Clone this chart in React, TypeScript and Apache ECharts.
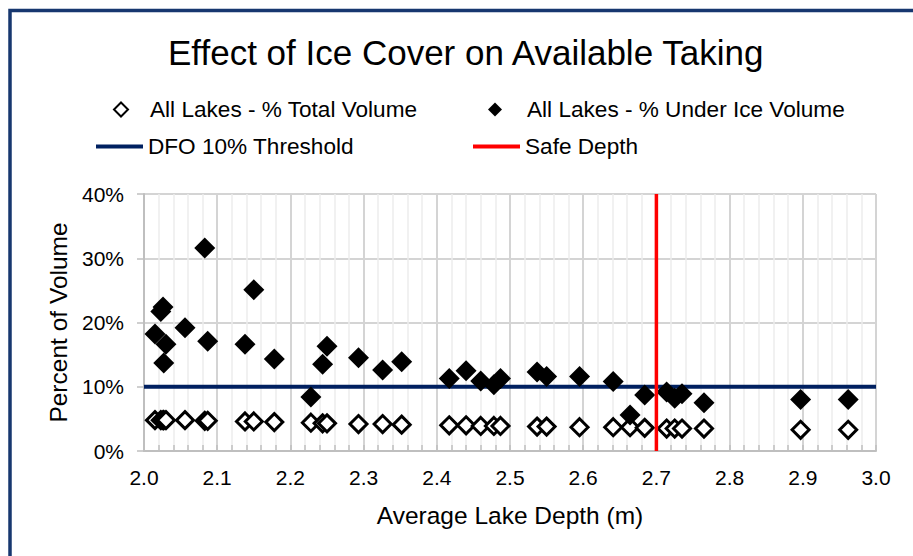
import React, { useEffect, useRef } from "react";
import * as echarts from "echarts";

// ---- Data ----
const depths = [
  2.015, 2.023, 2.026, 2.027, 2.03, 2.056, 2.083, 2.087, 2.138, 2.15, 2.178,
  2.228, 2.244, 2.25, 2.293, 2.326, 2.352, 2.417, 2.44, 2.46, 2.478, 2.487,
  2.537, 2.55, 2.595, 2.641, 2.664, 2.684, 2.714, 2.725, 2.735, 2.765, 2.897,
  2.962,
];
const underIcePct = [
  18.2, 21.7, 22.4, 13.7, 16.6, 19.2, 31.6, 17.1, 16.6, 25.1, 14.3, 8.4, 13.5,
  16.3, 14.5, 12.6, 13.9, 11.3, 12.5, 10.9, 10.3, 11.3, 12.3, 11.6, 11.6, 10.8,
  5.6, 8.7, 9.2, 8.2, 8.9, 7.5, 8.0, 8.0,
];
const totalVolumePct = [
  4.8, 4.8, 4.8, 4.8, 4.8, 4.8, 4.7, 4.7, 4.6, 4.6, 4.5, 4.4, 4.3, 4.3, 4.2,
  4.2, 4.1, 4.0, 4.0, 3.9, 3.9, 3.9, 3.8, 3.8, 3.7, 3.7, 3.7, 3.6, 3.5, 3.5,
  3.5, 3.5, 3.3, 3.3,
];
const dfoThresholdPct = 10;
const safeDepthM = 2.7;
const xRange = [2, 3];
const yRange = [0, 40];

const seriesNames = {
  total: "All Lakes - % Total Volume",
  under: "All Lakes - % Under Ice Volume",
  dfo: "DFO 10% Threshold",
  safe: "Safe Depth",
};

const FONT = "'Liberation Sans', Arial, sans-serif";

export default function App() {
  const ref = useRef<HTMLDivElement>(null);

  useEffect(() => {
    if (!ref.current) return;
    const chart = echarts.init(ref.current, null, { renderer: "svg" });

    const legendText = { fontSize: 22.6, color: "#000", fontFamily: FONT };
    const symbolLegend = {
      orient: "horizontal",
      padding: 0,
      itemWidth: 14,
      itemHeight: 14,
      selectedMode: false,
      top: 98,
    };
    const lineLegend = {
      orient: "horizontal",
      padding: 0,
      itemWidth: 47,
      itemHeight: 4,
      icon: "rect",
      selectedMode: false,
      top: 135,
      textStyle: legendText,
    };

    chart.setOption({
      animation: false,
      backgroundColor: "#fff",
      textStyle: { fontFamily: FONT },
      title: {
        text: "Effect of Ice Cover on Available Taking",
        left: 168,
        top: 35,
        padding: 0,
        textStyle: {
          fontSize: 35,
          fontWeight: "normal",
          color: "#000",
          fontFamily: FONT,
        },
      },
      legend: [
        {
          ...symbolLegend,
          data: [seriesNames.total],
          left: 113,
          textStyle: { ...legendText, padding: [0, 0, 0, 17] },
        },
        {
          ...symbolLegend,
          data: [seriesNames.under],
          left: 488,
          textStyle: { ...legendText, padding: [0, 0, 0, 20] },
        },
        { ...lineLegend, data: [seriesNames.dfo], left: 96 },
        { ...lineLegend, data: [seriesNames.safe], left: 473 },
      ],
      grid: { left: 144, right: 37, top: 194, bottom: 105, containLabel: false },
      xAxis: {
        type: "value",
        min: xRange[0],
        max: xRange[1],
        interval: 0.1,
        name: "Average Lake Depth (m)",
        nameLocation: "middle",
        nameGap: 52,
        nameTextStyle: { fontSize: 24.5, color: "#000", fontFamily: FONT },
        axisLine: { show: true, lineStyle: { color: "#bfbfbf", width: 2 } },
        axisTick: {
          show: true,
          inside: true,
          length: 6,
          lineStyle: { color: "#bfbfbf", width: 1.5 },
        },
        minorTick: {
          show: true,
          splitNumber: 5,
          length: 6,
          lineStyle: { color: "#bfbfbf", width: 1.5 },
        },
        axisLabel: {
          fontSize: 21,
          color: "#000",
          margin: 16,
          fontFamily: FONT,
          formatter: (v: number) => v.toFixed(1),
        },
        splitLine: { show: true, lineStyle: { color: "#d4d4d4", width: 2 } },
        minorSplitLine: {
          show: true,
          lineStyle: { color: "#ececec", width: 1.5 },
        },
      },
      yAxis: {
        type: "value",
        min: yRange[0],
        max: yRange[1],
        interval: 10,
        name: "Percent of Volume",
        nameLocation: "middle",
        nameGap: 70,
        nameTextStyle: { fontSize: 24.5, color: "#000", fontFamily: FONT },
        axisLine: { show: true, lineStyle: { color: "#bfbfbf", width: 2 } },
        axisTick: {
          show: true,
          inside: false,
          length: 7,
          lineStyle: { color: "#bfbfbf", width: 1.5 },
        },
        axisLabel: {
          fontSize: 21,
          color: "#000",
          margin: 20,
          fontFamily: FONT,
          formatter: (v: number) => `${v}%`,
        },
        splitLine: { show: true, lineStyle: { color: "#d4d4d4", width: 2 } },
      },
      graphic: [
        {
          type: "rect",
          silent: true,
          shape: { x: 10, y: 10.5, width: 1000, height: 1000 },
          style: { fill: "none", stroke: "#17376f", lineWidth: 3.5 },
          z: 100,
        },
      ],
      series: [
        {
          name: seriesNames.dfo,
          type: "line",
          symbol: "none",
          data: [
            [xRange[0], dfoThresholdPct],
            [xRange[1], dfoThresholdPct],
          ],
          lineStyle: { color: "#002060", width: 4 },
          itemStyle: { color: "#002060" },
          z: 2,
        },
        {
          name: seriesNames.total,
          type: "scatter",
          symbol: "diamond",
          symbolSize: 17,
          data: depths.map((d, i) => [d, totalVolumePct[i]]),
          itemStyle: {
            color: "#fff",
            borderColor: "#000",
            borderWidth: 3,
            opacity: 1,
          },
          z: 3,
        },
        {
          name: seriesNames.under,
          type: "scatter",
          symbol: "diamond",
          symbolSize: 21,
          data: depths.map((d, i) => [d, underIcePct[i]]),
          itemStyle: { color: "#000", opacity: 1 },
          z: 4,
        },
        {
          name: seriesNames.safe,
          type: "line",
          symbol: "none",
          data: [
            [safeDepthM, yRange[0]],
            [safeDepthM, yRange[1]],
          ],
          lineStyle: { color: "#ff0000", width: 3.5 },
          itemStyle: { color: "#ff0000" },
          z: 5,
        },
      ],
    });

    return () => chart.dispose();
  }, []);

  return (
    <div
      ref={ref}
      style={{
        position: "fixed",
        left: 0,
        top: 0,
        width: 913,
        height: 556,
        background: "#fff",
      }}
    />
  );
}
